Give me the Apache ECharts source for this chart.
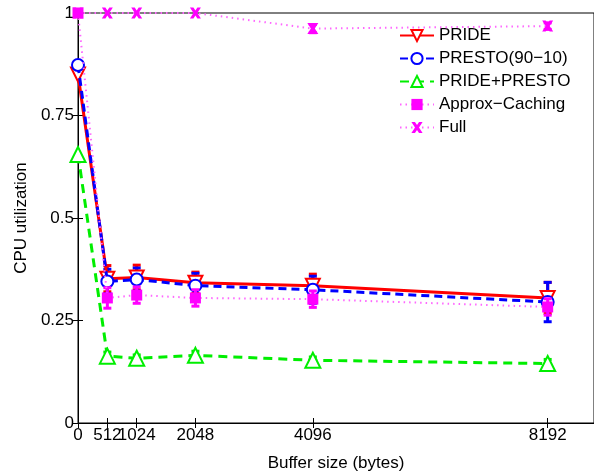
<!DOCTYPE html>
<html><head><meta charset="utf-8">
<script src="https://cdn.jsdelivr.net/npm/echarts@6/dist/echarts.min.js"></script>
<style>html,body{margin:0;padding:0;background:#fff}#c{width:594px;height:475px}</style>
</head><body><div id="c"></div>
<script>
var bufferSizes = [0, 512, 1024, 2048, 4096, 8192];
var xTicks = [0, 512, 1024, 2048, 4096, 8192];
var yTicks = [0, 0.25, 0.5, 0.75, 1];
var pride      = [0.850, 0.352, 0.355, 0.342, 0.335, 0.305];
var prideErr   = [0, 0.032, 0.030, 0.026, 0.028, 0.038];
var presto     = [0.873, 0.345, 0.350, 0.335, 0.325, 0.295];
var prestoErr  = [0, 0.030, 0.028, 0.030, 0.033, 0.048];
var pridePresto    = [0.655, 0.163, 0.158, 0.165, 0.153, 0.145];
var pridePrestoErr = [0, 0.010, 0.008, 0.010, 0.008, 0.010];
var approx     = [1.0, 0.305, 0.312, 0.305, 0.302, 0.283];
var approxErr  = [0, 0.025, 0.020, 0.020, 0.020, 0.020];
var full       = [1.0, 1.0, 1.0, 1.0, 0.962, 0.968];
var fullErr    = [0, 0, 0, 0, 0.010, 0.008];
var names = ['PRIDE', 'PRESTO(90\u221210)', 'PRIDE+PRESTO', 'Approx\u2212Caching', 'Full'];

function pts(v){ return bufferSizes.map(function(x,i){ return [x, v[i]]; }); }
function errPts(v,e){ var r=[]; bufferSizes.forEach(function(x,i){ if(e[i]>0) r.push([x, v[i]-e[i], v[i]+e[i]]); }); return r; }
function errSeries(name, v, e, color, z){
  return {
    name: name + ' err', type: 'custom', z: z,
    data: errPts(v,e), encode: {x:0, y:[1,2]},
    renderItem: function(params, api){
      var lo = api.coord([api.value(0), api.value(1)]);
      var hi = api.coord([api.value(0), api.value(2)]);
      var w = 4;
      var st = {stroke: color, lineWidth: 3};
      return {type:'group', children:[
        {type:'line', shape:{x1:lo[0],y1:lo[1],x2:hi[0],y2:hi[1]}, style:st},
        {type:'line', shape:{x1:lo[0]-w,y1:lo[1],x2:lo[0]+w,y2:lo[1]}, style:st},
        {type:'line', shape:{x1:hi[0]-w,y1:hi[1],x2:hi[0]+w,y2:hi[1]}, style:st}
      ]};
    }
  };
}
var xPath = 'path://M0,0 L3.2,0 L5,2.8 L6.8,0 L10,0 L6.8,5 L10,10 L6.8,10 L5,7.2 L3.2,10 L0,10 L3.2,5 Z';
var font = 'Liberation Sans, Arial, sans-serif';
var chart = echarts.init(document.getElementById('c'));
chart.setOption({
  animation: false,
  backgroundColor: '#fff',
  grid: {left: 78, right: 0, top: 13, bottom: 52, outerBoundsMode: 'none', containLabel: false,
         show: true, borderColor: '#000', borderWidth: 1},
  legend: {
    left: 394, top: 22, orient: 'vertical', itemGap: 6, itemWidth: 34, itemHeight: 14,
    textStyle: {fontFamily: font, fontSize: 17, color: '#000'},
    data: names
  },
  xAxis: [{
    type: 'value', min: 0, max: 9000,
    name: 'Buffer size (bytes)', nameLocation: 'middle', nameGap: 32,
    nameTextStyle: {fontFamily: font, fontSize: 17, color: '#000'},
    axisLine: {lineStyle: {color: '#000'}},
    axisTick: {inside: true, length: 5, customValues: xTicks, lineStyle: {color: '#000'}},
    axisLabel: {customValues: xTicks, fontFamily: font, fontSize: 17, color: '#000', margin: 4,
      formatter: function(v){ return String(v); }},
    splitLine: {show: false}
  },{
    type: 'value', min: 0, max: 9000, position: 'top',
    axisLine: {lineStyle: {color: '#000'}},
    axisTick: {inside: true, length: 5, customValues: xTicks, lineStyle: {color: '#000'}},
    axisLabel: {show: false}, splitLine: {show: false}
  }],
  yAxis: [{
    type: 'value', min: 0, max: 1, interval: 0.25,
    name: 'CPU utilization', nameLocation: 'middle', nameGap: 48,
    nameTextStyle: {fontFamily: font, fontSize: 17, color: '#000'},
    axisLine: {show: true, lineStyle: {color: '#000'}},
    axisTick: {show: true, inside: true, length: 5, lineStyle: {color: '#000'}},
    axisLabel: {fontFamily: font, fontSize: 17, color: '#000', margin: 4},
    splitLine: {show: false}
  },{
    type: 'value', min: 0, max: 1, interval: 0.25, position: 'right',
    axisLine: {show: true, lineStyle: {color: '#000'}},
    axisTick: {show: true, inside: true, length: 5, lineStyle: {color: '#000'}},
    axisLabel: {show: false}, splitLine: {show: false}
  }],
  series: [
    errSeries(names[0], pride, prideErr, '#ff0000', 3),
    {name:names[0], type:'line', data: pts(pride), z: 4,
     lineStyle:{color:'#ff0000', width:3}, itemStyle:{color:'#ff0000', borderColor:'#ff0000', borderWidth:3},
     symbol:'emptyTriangle', symbolRotate:180, symbolSize:14, showAllSymbol:true},
    errSeries(names[1], presto, prestoErr, '#0000ff', 4),
    {name:names[1], type:'line', data: pts(presto), z: 5,
     lineStyle:{color:'#0000ff', width:3, type:[8,5]}, itemStyle:{color:'#0000ff', borderColor:'#0000ff', borderWidth:3},
     symbol:'emptyCircle', symbolSize:12},
    errSeries(names[2], pridePresto, pridePrestoErr, '#00ee00', 4),
    {name:names[2], type:'line', data: pts(pridePresto), z: 5,
     lineStyle:{color:'#00ee00', width:3, type:[9,6]}, itemStyle:{color:'#00ee00', borderColor:'#00ee00', borderWidth:3},
     symbol:'emptyTriangle', symbolSize:15},
    errSeries(names[3], approx, approxErr, '#ff00ff', 6),
    {name:names[3], type:'line', data: pts(approx), z: 6,
     lineStyle:{color:'#ff66ff', width:2, type:[1.5,4]}, itemStyle:{color:'#ff00ff'},
     symbol:'rect', symbolSize:11},
    errSeries(names[4], full, fullErr, '#ff00ff', 6),
    {name:names[4], type:'line', data: pts(full), z: 6,
     lineStyle:{color:'#ff66ff', width:2, type:[1.5,4]}, itemStyle:{color:'#ff00ff'},
     symbol: xPath, symbolSize:11}
  ]
});
</script></body></html>
